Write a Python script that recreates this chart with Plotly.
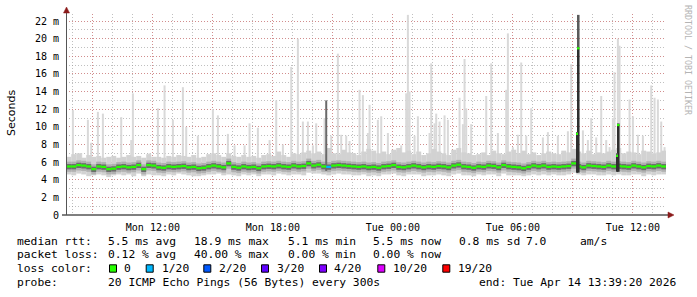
import numpy as np
import pandas as pd
import plotly.graph_objects as go

# ---------------- data ----------------
range_start = "2026-04-13 07:39:20"
range_end = "2026-04-14 13:39:20"
bin_start = "2026-04-13 07:40"
bin_minutes = 15

median_ms = [
    5.5, 5.5, 5.65, 5.6, 5.5, 5.2, 5.5, 5.45, 5.2, 5.25,
    5.45, 5.5, 5.4, 5.45, 5.65, 5.2, 5.65, 5.6, 5.4, 5.35,
    5.5, 5.45, 5.5, 5.55, 5.4, 5.45, 5.3, 5.35, 5.5, 5.6,
    5.5, 5.4, 5.85, 5.45, 5.35, 5.5, 5.4, 5.45, 5.3, 5.5,
    5.55, 5.5, 5.6, 5.5, 5.45, 5.6, 5.5, 5.55, 5.85, 5.6,
    5.7, 5.5, 5.45, 5.6, 5.65, 5.6, 5.55, 5.5, 5.45, 5.5,
    5.4, 5.45, 5.35, 5.5, 5.55, 5.65, 5.45, 5.4, 5.5, 5.6,
    5.5, 5.4, 5.5, 5.45, 5.55, 5.5, 5.4, 5.6, 5.7, 5.5,
    5.45, 5.35, 5.5, 5.45, 5.6, 5.55, 5.4, 5.65, 5.5, 5.45,
    5.4, 5.3, 5.45, 5.6, 5.5, 5.6, 5.45, 5.5, 5.45, 5.5,
    5.55, 5.85, 5.5, 5.4, 5.6, 5.55, 5.5, 5.45, 5.6, 5.5,
    5.55, 5.5, 5.45, 5.6, 5.5, 5.4, 5.55, 5.5, 5.6, 5.5,
]

smoke_lo_ms = [
    4.6, 4.5, 4.7, 4.6, 4.4, 4.5, 4.6, 4.5, 4.3, 4.5,
    4.6, 4.5, 4.6, 4.4, 4.7, 4.4, 4.6, 4.5, 4.5, 4.4,
    4.6, 4.5, 4.7, 4.6, 4.5, 4.4, 4.4, 4.5, 4.6, 4.6,
    4.7, 4.5, 4.6, 4.5, 4.4, 4.6, 4.5, 4.6, 4.4, 4.6,
    4.6, 4.5, 4.7, 4.6, 4.5, 4.6, 4.6, 4.5, 4.8, 4.7,
    4.7, 4.6, 4.5, 4.6, 4.7, 4.6, 4.6, 4.5, 4.5, 4.6,
    4.4, 4.5, 4.4, 4.6, 4.6, 4.7, 4.5, 4.4, 4.6, 4.6,
    4.6, 4.4, 4.5, 4.5, 4.6, 4.5, 4.4, 4.6, 4.7, 4.5,
    4.5, 4.4, 4.6, 4.5, 4.6, 4.6, 4.4, 4.7, 4.5, 4.5,
    4.5, 4.4, 4.5, 4.6, 4.5, 4.6, 4.5, 4.6, 4.5, 4.5,
    4.6, 4.8, 4.6, 4.5, 4.6, 4.6, 4.5, 4.5, 4.6, 4.5,
    4.6, 4.5, 4.5, 4.6, 4.6, 4.4, 4.6, 4.5, 4.6, 4.6,
]

smoke_hi_ms = [
    6.6, 6.9, 7.0, 6.5, 6.8, 6.6, 6.7, 6.5, 6.6, 6.7,
    6.5, 6.6, 6.8, 6.6, 6.7, 6.5, 6.9, 6.6, 6.6, 6.5,
    6.7, 6.6, 6.8, 6.7, 6.6, 6.8, 6.5, 6.6, 6.9, 7.0,
    6.8, 6.6, 7.0, 6.7, 6.6, 6.8, 6.6, 6.7, 6.5, 6.8,
    6.9, 6.7, 7.2, 6.8, 6.6, 7.0, 6.9, 7.1, 7.3, 7.0,
    7.2, 6.9, 7.6, 7.0, 6.9, 7.4, 7.1, 7.0, 6.8, 7.2,
    7.5, 7.3, 7.0, 7.2, 6.9, 7.4, 7.6, 7.1, 7.3, 6.9,
    7.2, 6.8, 7.0, 7.5, 7.2, 7.0, 6.8, 7.4, 7.6, 7.1,
    7.0, 6.8, 6.9, 7.1, 6.8, 7.3, 7.0, 6.9, 7.2, 7.4,
    7.0, 7.3, 6.9, 7.1, 6.8, 7.0, 7.2, 7.0, 6.9, 7.3,
    7.1, 7.5, 7.2, 7.0, 7.3, 6.9, 7.1, 7.0, 7.2, 7.4,
    7.6, 7.0, 7.2, 7.1, 6.9, 7.3, 7.2, 7.0, 7.1, 7.3,
]

loss_times = ["2026-04-13 20:40"]
loss_counts = [1]

spike_times = [
    "2026-04-13 08:00", "2026-04-13 08:25", "2026-04-13 08:45", "2026-04-13 08:55",
    "2026-04-13 09:15", "2026-04-13 09:30", "2026-04-13 10:25", "2026-04-13 10:55",
    "2026-04-13 11:00", "2026-04-13 11:50", "2026-04-13 12:15", "2026-04-13 12:35",
    "2026-04-13 13:00", "2026-04-13 13:30", "2026-04-13 13:40", "2026-04-13 14:15",
    "2026-04-13 15:00", "2026-04-13 15:15", "2026-04-13 15:45", "2026-04-13 16:05",
    "2026-04-13 16:35", "2026-04-13 16:50", "2026-04-13 17:15", "2026-04-13 17:50",
    "2026-04-13 18:10", "2026-04-13 18:30", "2026-04-13 18:55", "2026-04-13 19:15",
    "2026-04-13 19:30", "2026-04-13 19:45", "2026-04-13 20:00", "2026-04-13 20:10",
    "2026-04-13 20:35", "2026-04-13 20:55", "2026-04-13 21:15", "2026-04-13 21:25",
    "2026-04-13 21:40", "2026-04-13 21:50", "2026-04-13 22:00", "2026-04-13 22:20",
    "2026-04-13 22:30", "2026-04-13 22:45", "2026-04-13 22:50", "2026-04-13 23:15",
    "2026-04-13 23:25", "2026-04-13 23:45",
    "2026-04-14 00:10", "2026-04-14 00:25", "2026-04-14 00:40", "2026-04-14 00:45",
    "2026-04-14 00:50", "2026-04-14 01:05", "2026-04-14 01:15", "2026-04-14 01:50",
    "2026-04-14 01:55", "2026-04-14 02:05", "2026-04-14 02:10", "2026-04-14 02:20",
    "2026-04-14 02:35", "2026-04-14 02:45", "2026-04-14 03:20", "2026-04-14 03:30",
    "2026-04-14 03:35", "2026-04-14 03:40", "2026-04-14 03:55", "2026-04-14 04:40",
    "2026-04-14 04:55", "2026-04-14 05:15", "2026-04-14 05:40", "2026-04-14 05:45",
    "2026-04-14 06:00", "2026-04-14 06:15", "2026-04-14 06:25", "2026-04-14 06:40",
    "2026-04-14 06:55", "2026-04-14 07:30", "2026-04-14 07:45", "2026-04-14 08:15",
    "2026-04-14 08:45", "2026-04-14 08:55", "2026-04-14 09:30", "2026-04-14 09:45",
    "2026-04-14 09:55", "2026-04-14 10:10", "2026-04-14 10:25", "2026-04-14 10:40",
    "2026-04-14 10:50", "2026-04-14 11:00", "2026-04-14 11:05", "2026-04-14 11:15",
    "2026-04-14 11:20", "2026-04-14 11:50", "2026-04-14 12:00", "2026-04-14 12:15",
    "2026-04-14 12:30", "2026-04-14 12:55", "2026-04-14 13:05", "2026-04-14 13:15",
    "2026-04-14 13:25", "2026-04-14 13:35",
]
spike_ms = [
    11.9, 7.0, 10.8, 8.2,
    11.7, 11.5, 11.1, 8.5,
    13.8, 7.0, 12.1, 14.7,
    10.8, 14.5, 10.0, 9.0,
    12.0, 11.3, 9.2, 7.9,
    7.9, 10.4, 9.9, 8.5,
    13.0, 8.0, 16.8, 20.0,
    10.6, 10.6, 7.9, 10.4,
    11.0, 9.0, 18.3, 9.1,
    9.0, 8.4, 7.0, 14.2,
    13.6, 9.3, 12.5, 10.8,
    11.2, 9.3,
    7.2, 7.9, 13.8, 22.7,
    14.0, 9.0, 11.2, 9.3,
    17.2, 10.4, 11.5, 10.6,
    11.3, 10.8, 13.3, 10.3,
    17.7, 12.1, 10.3, 13.5,
    17.2, 9.3, 14.2, 20.6,
    7.7, 9.1, 17.3, 9.0,
    12.1, 8.8, 9.4, 9.0,
    9.5, 17.1, 9.6, 8.5,
    11.0, 8.8, 13.5, 8.5,
    7.7, 11.0, 16.2, 20.0,
    19.2, 13.1, 11.2, 9.1,
    9.0, 14.7, 13.3, 13.1,
    10.6, 7.7,
]

dark_spike_times = ["2026-04-13 20:40"]
dark_spike_ms = [13.0]

event_times = ["2026-04-14 09:10", "2026-04-14 09:15", "2026-04-14 11:10", "2026-04-14 11:15"]
event_lo_ms = [4.8, 4.8, 4.9, 4.9]
event_med_ms = [9.2, 18.9, 6.7, 10.2]
event_hi_ms = [9.4, 22.7, 7.0, 10.4]

x_tick_vals = ["2026-04-13 09:00", "2026-04-13 12:00", "2026-04-13 15:00", "2026-04-13 18:00",
               "2026-04-13 21:00", "2026-04-14 00:00", "2026-04-14 03:00", "2026-04-14 06:00",
               "2026-04-14 09:00", "2026-04-14 12:00"]
x_tick_text = ["", "Mon 12:00", "", "Mon 18:00", "", "Tue 00:00", "", "Tue 06:00", "", "Tue 12:00"]
y_tick_vals = [0, 2, 4, 6, 8, 10, 12, 14, 16, 18, 20, 22]
y_tick_text = ["0", "2 m", "4 m", "6 m", "8 m", "10 m", "12 m", "14 m", "16 m", "18 m", "20 m", "22 m"]
y_max = 22.8

rtt_label = "median rtt:"
rtt_items = ["5.5 ms avg", "18.9 ms max", "5.1 ms min", "5.5 ms now", "0.8 ms sd", "7.0", "am/s"]
loss_label = "packet loss:"
loss_items = ["0.12 % avg", "40.00 % max", "0.00 % min", "0.00 % now"]
color_label = "loss color:"
loss_names = ["0", "1/20", "2/20", "3/20", "4/20", "10/20", "19/20"]
loss_colors = ["#26ff00", "#00b8ff", "#0059ff", "#5e00ff", "#7e00ff", "#dd00ff", "#ff0000"]
probe_label = "probe:"
probe_text = "20 ICMP Echo Pings (56 Bytes) every 300s"
end_text = "end: Tue Apr 14 13:39:20 2026"
y_title = "Seconds"
watermark = "RRDTOOL / TOBI OETIKER"

# ---------------- layout helpers ----------------
W, H = 697, 297
L, R, T, B = 66, 666, 14, 215
PW, PH = R - L, B - T


def px(x):
    return (x - L) / PW


def py(y):
    return (B - y) / PH


MONO = "DejaVu Sans Mono"

times = pd.date_range(bin_start, periods=len(median_ms), freq=f"{bin_minutes}min")
med = np.array(median_ms)
lo = np.array(smoke_lo_ms)
hi = np.array(smoke_hi_ms)
BIN_W = bin_minutes * 60 * 1000
STEP_W = 5 * 60 * 1000

loss_set = {pd.Timestamp(t): c for t, c in zip(loss_times, loss_counts)}
med_colors = [loss_colors[1] if loss_set.get(t, 0) == 1 else loss_colors[0] for t in times]

fig = go.Figure()


def bars(x, base, height, color, width, offset=0):
    fig.add_trace(go.Bar(x=x, base=base, y=height, width=width, offset=offset,
                         marker=dict(color=color, line=dict(width=0)),
                         hoverinfo="skip", showlegend=False))


# light spikes (outer pings)
sp = np.array(spike_ms)
bars(spike_times, [6.0] * len(sp), sp - 6.0, "#d9d9d9", 360000, -180000)
# outer smoke band
bars(times, lo, hi - lo, "#d2d2d2", BIN_W)
# mid smoke band
bars(times, med - 0.6, [1.15] * len(med), "#b0b0b0", BIN_W)
# dark spike
ds = np.array(dark_spike_ms)
bars(dark_spike_times, [5.0] * len(ds), ds - 5.0, "#6a6a6a", 360000, -180000)
# core smoke
bars(times, med - 0.32, [0.6] * len(med), "#6c6c6c", BIN_W)
# median
bars(times, med - 0.12, [0.25] * len(med), med_colors, BIN_W)
# high-latency events
elo, emed, ehi = np.array(event_lo_ms), np.array(event_med_ms), np.array(event_hi_ms)
bars(event_times, elo, emed - elo, "#2e2e2e", STEP_W)
bars(event_times, emed, ehi - emed, "#5a5a5a", STEP_W)
bars(event_times, emed - 0.12, [0.25] * len(emed), loss_colors[0], STEP_W)

grid_red = "rgba(225,90,90,0.5)"
grid_gray = "rgba(150,150,150,0.6)"

fig.update_layout(
    width=W, height=H, autosize=False,
    margin=dict(l=L, r=W - R, t=T, b=H - B, pad=0),
    paper_bgcolor="white", plot_bgcolor="white",
    barmode="overlay", showlegend=False, hovermode=False,
    xaxis=dict(type="date", range=[range_start, range_end],
               tickmode="array", tickvals=x_tick_vals, ticktext=x_tick_text,
               showgrid=True, gridcolor=grid_red, griddash="1px,2px", gridwidth=1,
               minor=dict(dtick=3600000, tick0="2026-04-13 00:00", showgrid=True,
                          gridcolor=grid_gray, griddash="1px,2px", gridwidth=1),
               ticks="outside", ticklen=3, tickcolor="rgba(0,0,0,0)",
               tickfont=dict(family=MONO, size=10, color="#000"),
               zeroline=False, showline=False, fixedrange=True),
    yaxis=dict(range=[0, y_max], tickmode="array", tickvals=y_tick_vals, ticktext=y_tick_text,
               showgrid=True, gridcolor=grid_red, griddash="1px,2px", gridwidth=1,
               minor=dict(dtick=1, tick0=0, showgrid=True,
                          gridcolor=grid_gray, griddash="1px,2px", gridwidth=1),
               ticks="outside", ticklen=4, tickcolor="rgba(0,0,0,0)",
               tickfont=dict(family=MONO, size=10, color="#000"),
               zeroline=False, showline=False, fixedrange=True),
)

shapes = []
# axes lines
shapes.append(dict(type="line", xref="paper", yref="paper", x0=px(62), x1=px(668), y0=0, y1=0,
                   line=dict(color="#000", width=1)))
shapes.append(dict(type="line", xref="paper", yref="paper", x0=px(66.5), x1=px(66.5), y0=0, y1=py(12),
                   line=dict(color="#555", width=1)))
# arrows
ar = "#8b1a1a"
shapes.append(dict(type="path", xref="paper", yref="paper",
                   path=f"M {px(66.5)},{py(7)} L {px(63.5)},{py(13)} L {px(69.5)},{py(13)} Z",
                   fillcolor=ar, line=dict(color=ar, width=0.5)))
shapes.append(dict(type="path", xref="paper", yref="paper",
                   path=f"M {px(674)},{py(215)} L {px(668)},{py(212)} L {px(668)},{py(218)} Z",
                   fillcolor=ar, line=dict(color=ar, width=0.5)))

ann = []


def text(x, y, s, size=11.3, family=MONO, color="#000", **kw):
    ann.append(dict(xref="paper", yref="paper", x=px(x), y=py(y), text=s, showarrow=False,
                    xanchor=kw.pop("xanchor", "left"), yanchor=kw.pop("yanchor", "middle"),
                    borderpad=0, font=dict(family=family, size=size, color=color), **kw))


row1, row2, row3, row4 = 241, 254.5, 268.5, 282.8
text(16, row1, rtt_label)
for xx, s in zip([107.3, 193.3, 286.7, 372.3, 458.3, 525, 579], rtt_items):
    text(xx, row1, s)
text(16, row2, loss_label)
for xx, s in zip([107.3, 193.3, 286.7, 372.3], loss_items):
    text(xx, row2, s)
text(16, row3, color_label)
box_x = [109, 145.7, 203.3, 261, 319, 377.3, 442.3]
lab_x = [123.3, 160.7, 218.3, 275.7, 333.3, 391.7, 456.7]
for bx, lx, name, col in zip(box_x, lab_x, loss_names, loss_colors):
    shapes.append(dict(type="rect", xref="paper", yref="paper",
                       x0=px(bx + 0.5), x1=px(bx + 7.5), y0=py(264.8), y1=py(272.2),
                       fillcolor=col, line=dict(color="#000", width=1)))
    text(lx, row3, name)
text(16, row4, probe_label)
text(107.3, row4, probe_text)
text(478.3, row4, end_text)

text(11, 113, y_title, size=11, family="DejaVu Sans", xanchor="center", textangle=-90)
text(688, 60, watermark, size=8.3, color="#b4b4b4", xanchor="center", textangle=90)

fig.update_layout(shapes=shapes, annotations=ann)
fig.write_html("out.html")
